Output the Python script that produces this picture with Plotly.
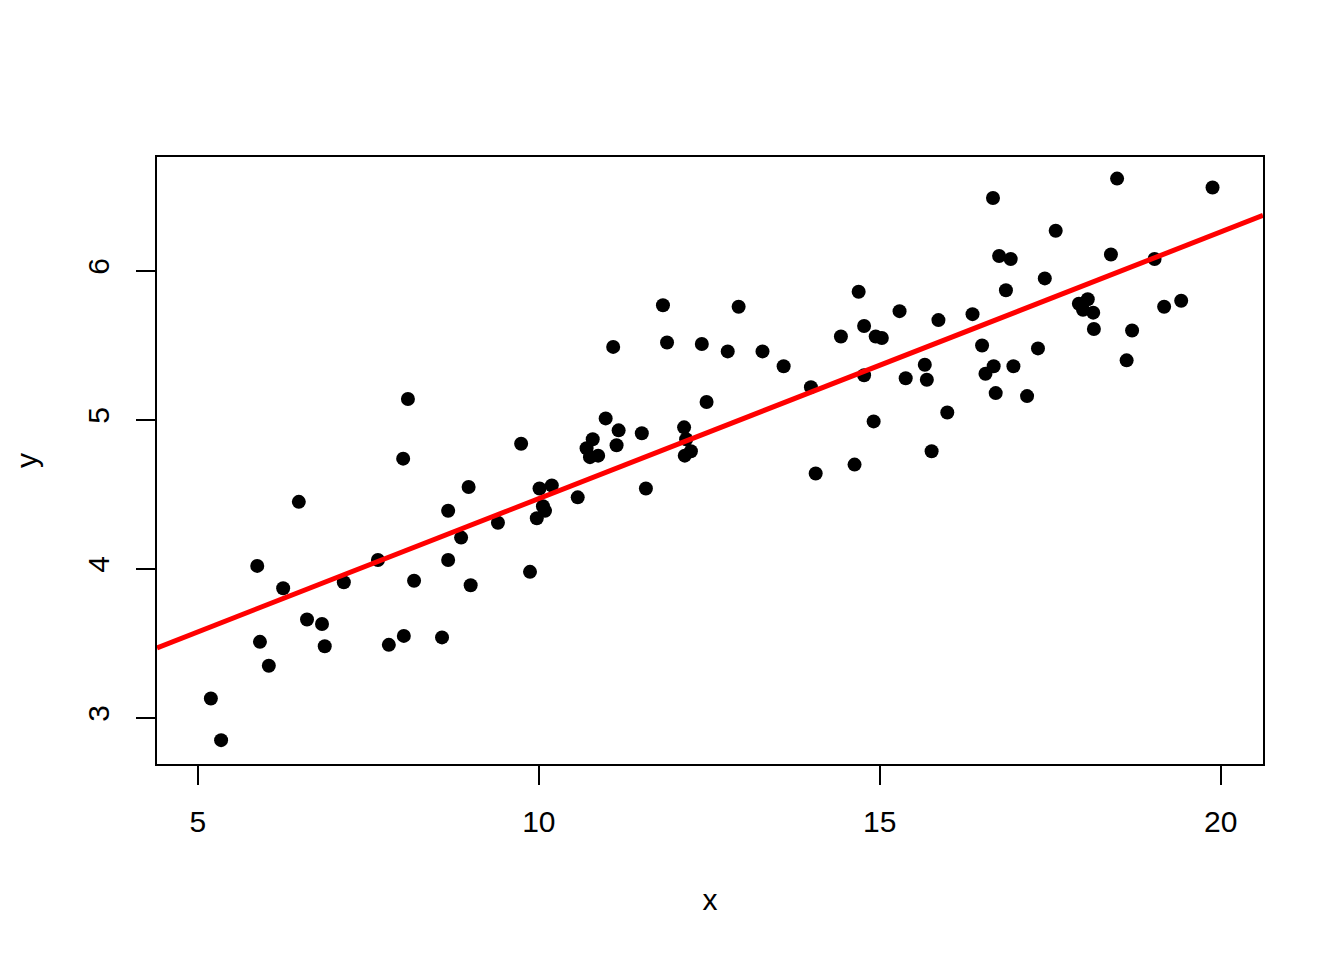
#!/usr/bin/env python3
"""Scatter of y against x with a fitted red regression line, in the look of
an R base-graphics plot (boxed panel, outside ticks, rotated y labels)."""
import plotly.graph_objects as go

# Points.
x_vals = [
    5.19, 5.34, 5.87, 5.91, 6.04, 6.25, 6.48, 6.60, 6.82, 6.86,
    7.14, 7.64, 7.80, 8.01, 8.02, 8.08, 8.17, 8.58, 8.67, 8.67,
    8.86, 8.97, 9.00, 9.40, 9.74, 9.87, 9.97, 10.01, 10.06, 10.09,
    10.19, 10.57, 10.70, 10.75, 10.79, 10.87, 10.98, 11.09, 11.14, 11.17,
    11.51, 11.57, 11.82, 11.88, 12.13, 12.16, 12.14, 12.23, 12.39, 12.46,
    12.77, 12.93, 13.28, 13.59, 13.99, 14.06, 14.43, 14.63, 14.69, 14.77,
    14.77, 14.91, 14.94, 15.03, 15.29, 15.38, 15.66, 15.69, 15.76, 15.86,
    15.99, 16.36, 16.50, 16.55, 16.66, 16.67, 16.70, 16.75, 16.85, 16.92,
    16.96, 17.16, 17.32, 17.42, 17.58, 17.92, 17.98, 18.05, 18.13, 18.14,
    18.39, 18.48, 18.62, 18.70, 19.03, 19.17, 19.42, 19.88,
]
y_vals = [
    3.13, 2.85, 4.02, 3.51, 3.35, 3.87, 4.45, 3.66, 3.63, 3.48,
    3.91, 4.06, 3.49, 4.74, 3.55, 5.14, 3.92, 3.54, 4.39, 4.06,
    4.21, 4.55, 3.89, 4.31, 4.84, 3.98, 4.34, 4.54, 4.42, 4.39,
    4.56, 4.48, 4.81, 4.75, 4.87, 4.76, 5.01, 5.49, 4.83, 4.93,
    4.91, 4.54, 5.77, 5.52, 4.95, 4.87, 4.76, 4.79, 5.51, 5.12,
    5.46, 5.76, 5.46, 5.36, 5.22, 4.64, 5.56, 4.70, 5.86, 5.63,
    5.30, 4.99, 5.56, 5.55, 5.73, 5.28, 5.37, 5.27, 4.79, 5.67,
    5.05, 5.71, 5.50, 5.31, 6.49, 5.36, 5.18, 6.10, 5.87, 6.08,
    5.36, 5.16, 5.48, 5.95, 6.27, 5.78, 5.74, 5.81, 5.72, 5.61,
    6.11, 6.62, 5.40, 5.60, 6.08, 5.76, 5.80, 6.56,
]

# Fitted line.
line_intercept = 2.682
line_slope = 0.179

x_range = [4.40, 20.62]
y_range = [2.69, 6.765]
x_ticks = [5, 10, 15, 20]
y_ticks = [3, 4, 5, 6]

FONT = "Liberation Sans, Arial, sans-serif"

fig = go.Figure()
fig.add_trace(go.Scatter(
    x=x_vals, y=y_vals, mode="markers",
    marker=dict(color="black", size=14, line=dict(width=0)),
    showlegend=False,
))
fig.add_trace(go.Scatter(
    x=x_range,
    y=[line_intercept + line_slope * v for v in x_range],
    mode="lines",
    line=dict(color="#FF0000", width=5),
    showlegend=False,
))

axis_common = dict(
    showgrid=False, zeroline=False,
    showline=True, mirror=True, linecolor="black", linewidth=2,
    ticks="outside", ticklen=19, tickwidth=2, tickcolor="black",
    tickfont=dict(size=30, color="black", family=FONT),
)
fig.update_xaxes(
    range=x_range, tickvals=x_ticks, ticklabelstandoff=11,
    title=dict(text="x", font=dict(size=30, color="black", family=FONT), standoff=52),
    **axis_common,
)
fig.update_yaxes(
    range=y_range, tickvals=y_ticks, tickangle=-90, ticklabelstandoff=15,
    title=dict(text="y", font=dict(size=30, color="black", family=FONT), standoff=36),
    **axis_common,
)
# the page body adds an 8px margin, so the figure is drawn 8px smaller
fig.update_layout(
    width=1336, height=952,
    paper_bgcolor="white", plot_bgcolor="white",
    margin=dict(l=149, r=81, t=149, b=196),
    font=dict(family=FONT, color="black"),
)
fig.write_html("out.html")
